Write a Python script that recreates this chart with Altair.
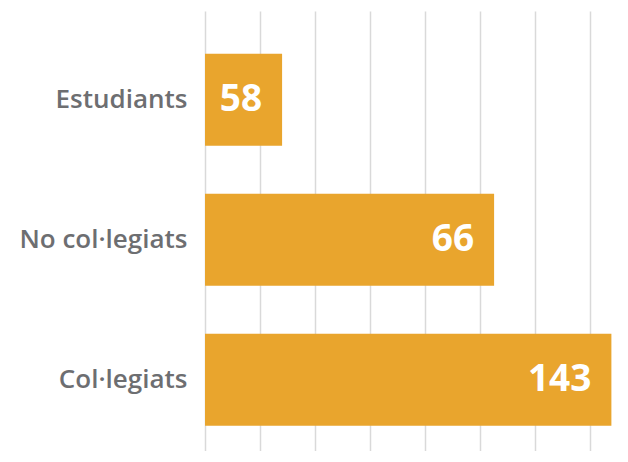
import altair as alt
import pandas as pd

categories = ["Estudiants", "No col·legiats", "Col·legiats"]
label_values = [58, 66, 143]
bar_lengths = [1.4, 5.25, 7.38]
grid_values = [0, 1, 2, 3, 4, 5, 6, 7]

df = pd.DataFrame({"cat": categories, "label": label_values, "len": bar_lengths})

bar_color = "#E9A52D"

y_enc = alt.Y(
    "cat:N",
    sort=categories,
    title=None,
    scale=alt.Scale(paddingInner=0.343, paddingOuter=0.243, align=0.63),
    axis=alt.Axis(
        ticks=False, domain=False, labelPadding=18, labelFontSize=26,
        labelFont="Open Sans", labelFontWeight=600, labelColor="#6d6e71", grid=False,
    ),
)
x_enc = alt.X(
    "len:Q",
    title=None,
    scale=alt.Scale(domain=[0, 7.5], nice=False, zero=True),
    axis=alt.Axis(
        values=grid_values, labels=False, ticks=False, domain=False,
        grid=True, gridColor="#d9d9d9", gridWidth=1.5,
    ),
)

bars = alt.Chart(df).mark_bar(color=bar_color).encode(x=x_enc, y=y_enc)
texts = alt.Chart(df).mark_text(
    align="right", baseline="middle", dx=-20, color="white",
    font="Open Sans", fontSize=37, fontWeight="bold",
).encode(x=alt.X("len:Q"), y=alt.Y("cat:N", sort=categories), text="label:Q")

chart = (
    (bars + texts)
    .properties(
        width=413, height=440,
        autosize=alt.AutoSizeParams(type="none"),
        padding={"left": 197, "top": 3, "right": 2, "bottom": 0},
    )
    .configure_view(stroke=None)
)

chart.save("out.html", embed_options={"renderer": "svg", "actions": False})
